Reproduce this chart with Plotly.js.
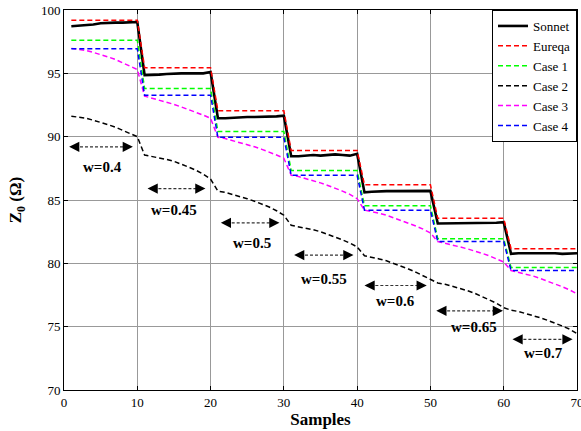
<!DOCTYPE html>
<html>
<head>
<meta charset="utf-8">
<script src="https://cdn.plot.ly/plotly-3.0.1.min.js"></script>
<style>html,body{margin:0;padding:0;background:#fff;}#chart{width:581px;height:431px;}</style>
</head>
<body>
<div id="chart"></div>
<script>
// ---- data ----
const samples = Array.from({length: 70}, (_, i) => i + 1);

const sonnet = [
  98.72, 98.75, 98.8, 98.85, 98.95, 99.0, 99.0, 99.0, 99.0, 99.05,
  94.85, 94.85, 94.9, 94.95, 95.0, 95.0, 95.0, 95.0, 95.0, 95.1,
  91.45, 91.45, 91.5, 91.55, 91.55, 91.55, 91.55, 91.55, 91.6, 91.65,
  88.45, 88.45, 88.5, 88.55, 88.5, 88.55, 88.6, 88.55, 88.5, 88.65,
  85.6, 85.65, 85.7, 85.7, 85.7, 85.7, 85.7, 85.7, 85.7, 85.72,
  83.15, 83.15, 83.2, 83.2, 83.15, 83.2, 83.2, 83.2, 83.2, 83.25,
  80.75, 80.8, 80.8, 80.85, 80.85, 80.8, 80.8, 80.75, 80.75, 80.8
];
const eureqa = [
  99.2, 99.2, 99.2, 99.2, 99.2, 99.2, 99.2, 99.2, 99.2, 99.2,
  95.45, 95.45, 95.45, 95.45, 95.45, 95.45, 95.45, 95.45, 95.45, 95.45,
  92.05, 92.05, 92.05, 92.05, 92.05, 92.05, 92.05, 92.05, 92.05, 92.05,
  88.9, 88.9, 88.9, 88.9, 88.9, 88.9, 88.9, 88.9, 88.9, 88.9,
  86.2, 86.2, 86.2, 86.2, 86.2, 86.2, 86.2, 86.2, 86.2, 86.2,
  83.55, 83.55, 83.55, 83.55, 83.55, 83.55, 83.55, 83.55, 83.55, 83.55,
  81.15, 81.15, 81.15, 81.15, 81.15, 81.15, 81.15, 81.15, 81.15, 81.15
];
const case1 = [
  97.62, 97.62, 97.62, 97.62, 97.62, 97.62, 97.62, 97.62, 97.62, 97.62,
  93.8, 93.8, 93.8, 93.8, 93.8, 93.8, 93.8, 93.8, 93.8, 93.8,
  90.4, 90.4, 90.4, 90.4, 90.4, 90.4, 90.4, 90.4, 90.4, 90.4,
  87.32, 87.32, 87.32, 87.32, 87.32, 87.32, 87.32, 87.32, 87.32, 87.32,
  84.55, 84.55, 84.55, 84.55, 84.55, 84.55, 84.55, 84.55, 84.55, 84.55,
  81.95, 81.95, 81.95, 81.95, 81.95, 81.95, 81.95, 81.95, 81.95, 81.95,
  79.68, 79.68, 79.68, 79.68, 79.68, 79.68, 79.68, 79.68, 79.68, 79.68
];
const case2 = [
  91.62, 91.55, 91.45, 91.3, 91.15, 90.95, 90.75, 90.5, 90.25, 90.0,
  88.55, 88.45, 88.35, 88.2, 88.05, 87.85, 87.6, 87.35, 87.05, 86.65,
  85.7, 85.6, 85.45, 85.3, 85.1, 84.9, 84.7, 84.45, 84.15, 83.8,
  83.0, 82.9, 82.8, 82.65, 82.5, 82.3, 82.1, 81.85, 81.6, 81.3,
  80.6, 80.5, 80.35, 80.2, 80.0, 79.8, 79.55, 79.3, 79.0, 78.7,
  78.45, 78.35, 78.2, 78.05, 77.85, 77.65, 77.4, 77.15, 76.85, 76.5,
  76.3, 76.2, 76.05, 75.9, 75.7, 75.5, 75.3, 75.05, 74.8, 74.45
];
const case3 = [
  96.97, 96.9, 96.8, 96.65, 96.5, 96.3, 96.1, 95.85, 95.6, 95.3,
  93.2, 93.05, 92.9, 92.75, 92.55, 92.35, 92.15, 91.95, 91.7, 91.45,
  89.95, 89.85, 89.7, 89.55, 89.4, 89.2, 89.0, 88.8, 88.55, 88.3,
  86.95, 86.85, 86.7, 86.55, 86.35, 86.15, 85.95, 85.7, 85.45, 85.1,
  84.2, 84.1, 83.95, 83.8, 83.6, 83.4, 83.2, 82.95, 82.7, 82.4,
  81.72, 81.6, 81.45, 81.3, 81.15, 81.0, 80.8, 80.6, 80.35, 80.1,
  79.43, 79.3, 79.15, 79.0, 78.8, 78.6, 78.4, 78.15, 77.9, 77.6
];
const case4 = [
  96.95, 96.95, 96.95, 96.95, 96.95, 96.95, 96.95, 96.95, 96.95, 96.95,
  93.27, 93.27, 93.27, 93.27, 93.27, 93.27, 93.27, 93.27, 93.27, 93.27,
  89.95, 89.95, 89.95, 89.95, 89.95, 89.95, 89.95, 89.95, 89.95, 89.95,
  86.95, 86.95, 86.95, 86.95, 86.95, 86.95, 86.95, 86.95, 86.95, 86.95,
  84.2, 84.2, 84.2, 84.2, 84.2, 84.2, 84.2, 84.2, 84.2, 84.2,
  81.72, 81.72, 81.72, 81.72, 81.72, 81.72, 81.72, 81.72, 81.72, 81.72,
  79.43, 79.43, 79.43, 79.43, 79.43, 79.43, 79.43, 79.43, 79.43, 79.43
];

const seriesNames = ['Sonnet', 'Eureqa', 'Case 1', 'Case 2', 'Case 3', 'Case 4'];

// width annotations (double arrows)
const wLabels = ['w=0.4', 'w=0.45', 'w=0.5', 'w=0.55', 'w=0.6', 'w=0.65', 'w=0.7'];
const arrowX0 = [0.7, 11.4, 21.4, 31.4, 41.0, 50.8, 61.2];
const arrowX1 = [9.4, 19.3, 29.4, 39.5, 49.5, 59.9, 69.4];
const arrowY  = [89.2, 85.9, 83.2, 80.65, 78.25, 76.25, 74.0];
const labelX  = [5.25, 14.95, 25.6, 35.5, 45.3, 56.0, 65.4];
const labelY  = [87.6, 84.2, 81.6, 78.8, 77.05, 75.0, 72.95];

const xTicks = [0, 10, 20, 30, 40, 50, 60, 70];
const yTicks = [70, 75, 80, 85, 90, 95, 100];

// ---- chart ----
const FONT = 'Liberation Serif, Times New Roman, serif';
const DASH = '5px,3px';
const styles = [
  {color: '#000000', width: 2.6, dash: 'solid'},
  {color: '#ff0000', width: 1.5, dash: DASH},
  {color: '#00ff00', width: 1.5, dash: DASH},
  {color: '#000000', width: 1.5, dash: DASH},
  {color: '#ff00ff', width: 1.5, dash: DASH},
  {color: '#0000ff', width: 1.5, dash: DASH}
];
const ys = [sonnet, eureqa, case1, case2, case3, case4];
const traces = ys.map((y, i) => ({
  x: samples, y: y, name: seriesNames[i], type: 'scatter', mode: 'lines',
  line: styles[i]
}));

const shapes = [];
const annotations = [];
for (let i = 0; i < wLabels.length; i++) {
  shapes.push({type: 'line', xref: 'x', yref: 'y', x0: arrowX0[i] + 0.8, x1: arrowX1[i] - 0.8,
    y0: arrowY[i], y1: arrowY[i], line: {color: '#333333', width: 1.2, dash: '3px,2px'}});
  annotations.push({x: arrowX0[i], y: arrowY[i], ax: arrowX0[i] + 1.3, ay: arrowY[i],
    xref: 'x', yref: 'y', axref: 'x', ayref: 'y', text: '', showarrow: true,
    arrowhead: 2, arrowsize: 1.7, arrowwidth: 1.2, arrowcolor: '#000000'});
  annotations.push({x: arrowX1[i], y: arrowY[i], ax: arrowX1[i] - 1.3, ay: arrowY[i],
    xref: 'x', yref: 'y', axref: 'x', ayref: 'y', text: '', showarrow: true,
    arrowhead: 2, arrowsize: 1.7, arrowwidth: 1.2, arrowcolor: '#000000'});
  annotations.push({x: labelX[i], y: labelY[i], xref: 'x', yref: 'y', text: '<b>' + wLabels[i] + '</b>',
    showarrow: false, font: {family: FONT, size: 15, color: '#000'}});
}

const axisCommon = {
  showline: true, linecolor: '#000', linewidth: 1, mirror: 'ticks',
  ticks: 'inside', ticklen: 4, tickcolor: '#000',
  showgrid: true, gridcolor: '#999999', gridwidth: 1, zeroline: false,
  tickfont: {family: FONT, size: 13, color: '#000'}
};

const layout = {
  width: 581, height: 431,
  margin: {l: 64, r: 4, t: 10, b: 41},
  paper_bgcolor: '#fff', plot_bgcolor: '#fff',
  font: {family: FONT, color: '#000'},
  showlegend: true,
  legend: {x: 1, xanchor: 'right', y: 1, yanchor: 'top', bgcolor: '#fff',
    bordercolor: '#000', borderwidth: 1, font: {family: FONT, size: 13, color: '#000'},
    tracegroupgap: 0},
  xaxis: Object.assign({}, axisCommon, {range: [0, 70], tickvals: xTicks, ticktext: xTicks.map(String),
    ticklabeloverflow: 'allow',
    title: {text: '<b>Samples</b>', font: {family: FONT, size: 17}, standoff: 4}}),
  yaxis: Object.assign({}, axisCommon, {range: [70, 100], tickvals: yTicks, ticktext: yTicks.map(String),
    title: {text: '<b>Z<sub>0</sub> (Ω)</b>', font: {family: FONT, size: 17}, standoff: 14}}),
  shapes: shapes,
  annotations: annotations
};

Plotly.newPlot('chart', traces, layout, {displayModeBar: false, staticPlot: true});
</script>
</body>
</html>
